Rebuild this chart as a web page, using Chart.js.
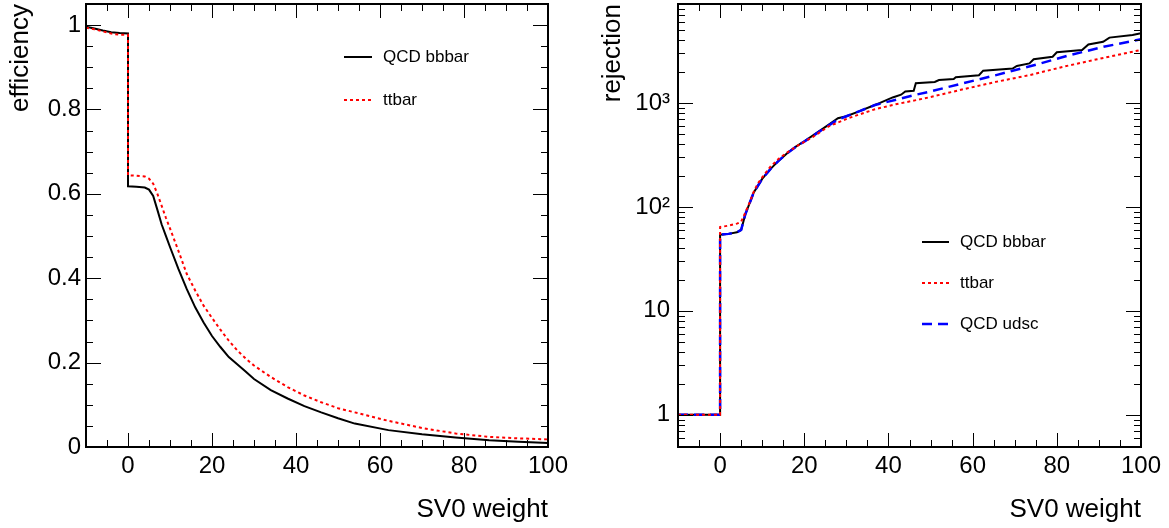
<!DOCTYPE html>
<html>
<head>
<meta charset="utf-8">
<title>SV0 weight - efficiency and rejection</title>
<script src="https://cdn.jsdelivr.net/npm/chart.js@4.4.1/dist/chart.umd.min.js"></script>
<style>
  html, body { margin: 0; padding: 0; background: #fff; }
  #wrap { position: relative; width: 1169px; height: 528px; }
  canvas { position: absolute; top: 0; }
  #effChart { left: 0; }
  #rejChart { left: 584px; }
</style>
</head>
<body>
<div id="wrap">
  <canvas id="effChart" width="584" height="528"></canvas>
  <canvas id="rejChart" width="585" height="528"></canvas>
</div>
<script>
// x ticks (both panels)
const xTicks = [0, 20, 40, 60, 80, 100];

// efficiency panel
const effX = [-10, -8, -6, -4, -2, 0, 0, 2, 4, 5, 6, 7, 8, 9, 10, 12, 14, 16, 18, 20, 22, 24, 26, 28, 30, 34, 38, 42, 46, 50, 54, 62, 70, 78, 86, 93, 100];
const effBbbar = [0.996, 0.992, 0.987, 0.983, 0.981, 0.980, 0.618, 0.617, 0.615, 0.610, 0.595, 0.562, 0.528, 0.501, 0.474, 0.422, 0.374, 0.331, 0.295, 0.263, 0.237, 0.213, 0.196, 0.179, 0.161, 0.135, 0.115, 0.097, 0.082, 0.068, 0.0555, 0.040, 0.030, 0.0225, 0.0162, 0.0125, 0.0095];
const effTtbar = [0.994, 0.990, 0.985, 0.980, 0.977, 0.977, 0.644, 0.643, 0.641, 0.636, 0.624, 0.600, 0.572, 0.544, 0.518, 0.465, 0.410, 0.371, 0.335, 0.306, 0.278, 0.252, 0.229, 0.210, 0.193, 0.166, 0.142, 0.122, 0.106, 0.092, 0.082, 0.062, 0.045, 0.032, 0.024, 0.0205, 0.018];
const effYTicks = [0, 0.2, 0.4, 0.6, 0.8, 1];

// rejection panel
const rejBbbarX = [-10, 0, 0, 2, 4, 5, 6, 7, 8, 10, 12, 14, 16, 18, 20, 22, 24, 26, 28, 30, 33, 36, 38, 41, 43, 44, 46, 46.5, 51, 52, 55.5, 56, 61.5, 62.5, 69.5, 70.5, 73.5, 74.5, 79, 80, 86, 87.5, 91, 92.5, 98, 100];
const rejBbbarY = [1, 1, 54, 55, 57, 60, 85, 108, 138, 186, 232, 280, 330, 380, 428, 485, 550, 625, 712, 745, 830, 930, 1000, 1130, 1200, 1290, 1310, 1550, 1590, 1660, 1700, 1766, 1850, 2045, 2140, 2270, 2400, 2630, 2780, 3070, 3230, 3650, 3880, 4250, 4500, 4680];
const rejTtbarX = [-10, 0, 0, 2, 4, 5, 6, 7, 8, 9, 10, 12, 14, 16, 18, 20, 22, 25.7, 30.4, 36.8, 41.5, 46.3, 49.8, 57.8, 65.8, 73.7, 81.6, 89.6, 100];
const rejTtbarY = [1, 1, 64, 66, 69, 72, 88, 110, 140, 169, 192, 245, 292, 335, 378, 422, 470, 592, 712, 870, 966, 1059, 1135, 1355, 1603, 1858, 2233, 2632, 3235];
const rejUdscX = [-10, 0, 0, 2, 4, 5, 6, 7, 8, 10, 12, 14, 16, 18, 20, 22, 24, 26, 28, 30, 33, 36.8, 40, 46.3, 49.8, 57.8, 65.8, 75.2, 83.1, 91.1, 100];
const rejUdscY = [1, 1, 54, 55, 57, 60, 85, 108, 138, 186, 232, 280, 330, 378, 425, 480, 545, 615, 690, 745, 830, 955, 1030, 1194, 1284, 1549, 1862, 2344, 2884, 3467, 4093];
const rejYTicks = [1, 10, 100, 1000];
const rejYLabels = ['1', '10', '10\u00b2', '10\u00b3'];

const FONT = '"Liberation Sans", Arial, Helvetica, sans-serif';
Chart.defaults.font.family = FONT;
Chart.defaults.color = '#000';

const pts = (xs, ys) => xs.map((x, i) => ({ x: x, y: ys[i] }));

// ROOT-like frame with inward ticks on all four sides
const rootFrame = {
  id: 'rootFrame',
  afterDatasetsDraw(chart, args, opts) {
    const { ctx, chartArea: a, scales: { x, y } } = chart;
    ctx.save();
    ctx.strokeStyle = '#000';
    ctx.lineWidth = 1;
    ctx.beginPath();
    for (let v = -10; v <= 100; v += 5) {
      const px = Math.round(x.getPixelForValue(v)) + 0.5;
      if (px < a.left + 2 || px > a.right - 2) continue;
      const len = v % 20 === 0 ? 14 : 7;
      ctx.moveTo(px, a.bottom); ctx.lineTo(px, a.bottom - len);
      ctx.moveTo(px, a.top); ctx.lineTo(px, a.top + len);
    }
    opts.yTicks.forEach(t => {
      const py = Math.round(y.getPixelForValue(t.v)) + 0.5;
      if (py < a.top + 2 || py > a.bottom - 2) return;
      const len = t.major ? 15 : 7;
      ctx.moveTo(a.left, py); ctx.lineTo(a.left + len, py);
      ctx.moveTo(a.right, py); ctx.lineTo(a.right - len, py);
    });
    ctx.stroke();
    ctx.lineWidth = 2;
    ctx.strokeRect(a.left, a.top, a.right - a.left, a.bottom - a.top);
    ctx.restore();
  }
};

// legend drawn inside the frame
const rootLegend = {
  id: 'rootLegend',
  afterDraw(chart, args, opts) {
    const { ctx } = chart;
    ctx.save();
    ctx.font = '17px ' + FONT;
    ctx.textBaseline = 'middle';
    chart.data.datasets.forEach((ds, i) => {
      const yy = opts.y + i * opts.dy;
      ctx.strokeStyle = ds.borderColor;
      ctx.lineWidth = ds.borderWidth;
      ctx.setLineDash(ds.borderDash || []);
      ctx.beginPath();
      ctx.moveTo(opts.x, yy);
      ctx.lineTo(opts.x + opts.len, yy);
      ctx.stroke();
      ctx.setLineDash([]);
      ctx.fillStyle = '#000';
      ctx.fillText(ds.label, opts.x + opts.textDx, yy);
    });
    ctx.restore();
  }
};

function xAxis() {
  return {
    type: 'linear', min: -10, max: 100,
    grid: { display: false, drawTicks: false },
    border: { display: false },
    ticks: { padding: 7, autoSkip: false, maxRotation: 0, font: { size: 24, lineHeight: 1 } },
    afterBuildTicks: s => { s.ticks = xTicks.map(v => ({ value: v })); },
    afterFit: s => { s.height = 81; s.paddingLeft = 0; s.paddingRight = 0; },
    title: { display: true, text: 'SV0 weight', align: 'end', font: { size: 26 }, padding: { top: 0, bottom: 3 } }
  };
}

// efficiency
const effMinor = [];
for (let i = 0; i <= 21; i++) effMinor.push({ v: i * 0.05, major: i % 4 === 0 });

new Chart(document.getElementById('effChart'), {
  type: 'line',
  data: {
    datasets: [
      { label: 'QCD bbbar', data: pts(effX, effBbbar), borderColor: '#000', borderWidth: 2, order: 2 },
      { label: 'ttbar', data: pts(effX, effTtbar), borderColor: '#ff0000', borderWidth: 2, borderDash: [3, 3], order: 1 }
    ]
  },
  options: {
    responsive: false, animation: false, devicePixelRatio: 1, events: [],
    layout: { padding: { left: 0, right: 36, top: 4, bottom: 0 } },
    elements: { point: { radius: 0 }, line: { tension: 0 } },
    scales: {
      x: xAxis(),
      y: {
        type: 'linear', min: 0, max: 1.05,
        grid: { display: false, drawTicks: false },
        border: { display: false },
        ticks: { padding: 5, font: { size: 24, lineHeight: 1 }, callback: v => String(+v.toFixed(1)) },
        afterBuildTicks: s => { s.ticks = effYTicks.map(v => ({ value: v })); },
        afterFit: s => { s.width = 86; s.paddingTop = 0; s.paddingBottom = 0; },
        title: { display: true, text: 'efficiency', align: 'end', font: { size: 26 }, padding: { top: 5, bottom: 0 } }
      }
    },
    plugins: {
      legend: { display: false },
      tooltip: { enabled: false },
      rootFrame: { yTicks: effMinor },
      rootLegend: { x: 344, y: 57, dy: 43, len: 28, textDx: 39 }
    }
  },
  plugins: [rootFrame, rootLegend]
});

// rejection
const rejMinor = [];
for (let k = -1; k <= 3; k++) {
  for (let m = 1; m <= 9; m++) rejMinor.push({ v: m * Math.pow(10, k), major: m === 1 });
}

new Chart(document.getElementById('rejChart'), {
  type: 'line',
  data: {
    datasets: [
      { label: 'QCD bbbar', data: pts(rejBbbarX, rejBbbarY), borderColor: '#000', borderWidth: 2, order: 3 },
      { label: 'ttbar', data: pts(rejTtbarX, rejTtbarY), borderColor: '#ff0000', borderWidth: 2, borderDash: [3, 3], order: 1 },
      { label: 'QCD udsc', data: pts(rejUdscX, rejUdscY), borderColor: '#0000ff', borderWidth: 2.5, borderDash: [10, 6], order: 2 }
    ]
  },
  options: {
    responsive: false, animation: false, devicePixelRatio: 1, events: [],
    layout: { padding: { left: 0, right: 28, top: 4, bottom: 0 } },
    elements: { point: { radius: 0 }, line: { tension: 0 } },
    scales: {
      x: xAxis(),
      y: {
        type: 'logarithmic', min: 0.49, max: 8950,
        grid: { display: false, drawTicks: false },
        border: { display: false },
        ticks: { padding: 8, font: { size: 24, lineHeight: 1 }, callback: v => rejYLabels[rejYTicks.indexOf(v)] },
        afterBuildTicks: s => { s.ticks = rejYTicks.map(v => ({ value: v })); },
        afterFit: s => { s.width = 94; s.paddingTop = 0; s.paddingBottom = 0; },
        title: { display: true, text: 'rejection', align: 'end', font: { size: 26 }, padding: { top: 13, bottom: 0 } }
      }
    },
    plugins: {
      legend: { display: false },
      tooltip: { enabled: false },
      rootFrame: { yTicks: rejMinor },
      rootLegend: { x: 338, y: 242, dy: 41, len: 27, textDx: 38 }
    }
  },
  plugins: [rootFrame, rootLegend]
});
</script>
</body>
</html>
